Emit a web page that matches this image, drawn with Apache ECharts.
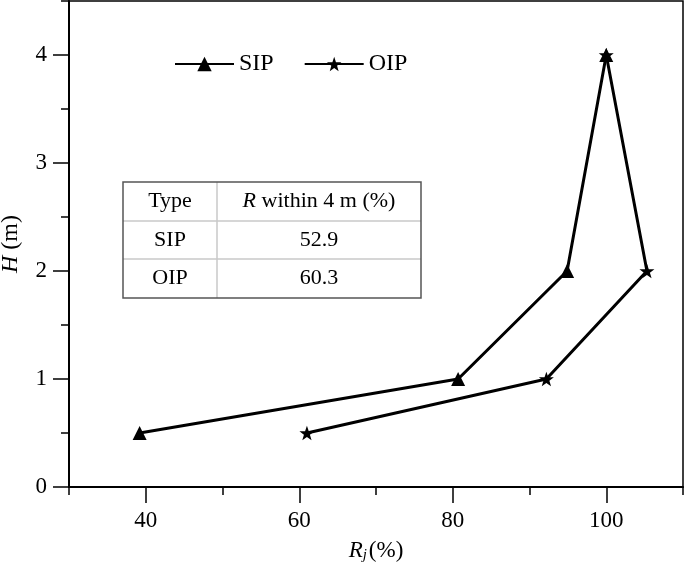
<!DOCTYPE html>
<html>
<head>
<meta charset="utf-8">
<script src="https://cdn.jsdelivr.net/npm/echarts@6/dist/echarts.min.js"></script>
<style>html,body{margin:0;padding:0;background:#fff;}#c{width:685px;height:570px;}</style>
</head>
<body>
<div id="c"></div>
<script>
// ---- data ----
const seriesNames = ['SIP', 'OIP'];
const sipX = [39.2, 80.7, 94.9, 100];
const sipY = [0.5, 1, 2, 4];
const oipX = [61.0, 92.2, 105.3, 100];
const oipY = [0.5, 1, 2, 4];
const xTickValues = [40, 60, 80, 100];
const yTickValues = [0, 1, 2, 3, 4];
const tableHeader = ['Type', 'R within 4 m (%)'];
const tableTypes = ['SIP', 'OIP'];
const tableValues = ['52.9', '60.3'];

const FONT = '"Liberation Serif", "Times New Roman", serif';
const STAR = 'path://M0,-10 L2.35,-3.24 L9.51,-3.09 L3.8,1.24 L5.88,8.09 L0,4 L-5.88,8.09 L-3.8,1.24 L-9.51,-3.09 L-2.35,-3.24 Z';

const chart = echarts.init(document.getElementById('c'), null, {renderer: 'canvas'});

function pairs(xs, ys) { return xs.map((x, i) => [x, ys[i]]); }

// table graphic
const T = {x0: 123, x1: 217, x2: 421, y0: 182, y1: 221, y2: 259, y3: 298};
const rowsY = [T.y0, T.y1, T.y2, T.y3];
const g = [];
const inner = '#c8c8c8', outer = '#555';
g.push({type: 'rect', shape: {x: T.x0, y: T.y0, width: T.x2 - T.x0, height: T.y3 - T.y0}, style: {fill: '#fff', stroke: 'none'}, z: 10});
g.push({type: 'line', shape: {x1: T.x1, y1: T.y0, x2: T.x1, y2: T.y3}, style: {stroke: inner, lineWidth: 1.5}, z: 11});
g.push({type: 'line', shape: {x1: T.x0, y1: T.y1, x2: T.x2, y2: T.y1}, style: {stroke: inner, lineWidth: 1.5}, z: 11});
g.push({type: 'line', shape: {x1: T.x0, y1: T.y2, x2: T.x2, y2: T.y2}, style: {stroke: inner, lineWidth: 1.5}, z: 11});
g.push({type: 'rect', shape: {x: T.x0, y: T.y0, width: T.x2 - T.x0, height: T.y3 - T.y0}, style: {fill: 'none', stroke: outer, lineWidth: 1.5}, z: 12});
const c1 = (T.x0 + T.x1) / 2, c2 = (T.x1 + T.x2) / 2;
function cellText(x, yTop, yBot, text, rich) {
  return {type: 'text', x: x, y: (yTop + yBot) / 2, z: 13,
    style: {text: text, font: '22px ' + FONT, fill: '#000', align: 'center', verticalAlign: 'middle', rich: rich}};
}
g.push(cellText(c1, rowsY[0], rowsY[1], tableHeader[0]));
const hdr = tableHeader[1];
g.push(cellText(c2, rowsY[0], rowsY[1], '{i|' + hdr.charAt(0) + '}{n|' + hdr.slice(1) + '}',
  {i: {fontStyle: 'italic', fontSize: 22, fontFamily: FONT, fill: '#000'}, n: {fontSize: 22, fontFamily: FONT, fill: '#000'}}));
for (let r = 0; r < tableTypes.length; r++) {
  g.push(cellText(c1, rowsY[r + 1], rowsY[r + 2], tableTypes[r]));
  g.push(cellText(c2, rowsY[r + 1], rowsY[r + 2], tableValues[r]));
}

const option = {
  animation: false,
  backgroundColor: '#fff',
  grid: {left: 69, right: 2, top: 1, bottom: 83, show: true, borderColor: '#000', borderWidth: 1.5,
    outerBoundsMode: 'none', containLabel: false},
  legend: {
    left: 174, top: 52, padding: 0, itemWidth: 59, itemHeight: 18, itemGap: 30,
    data: seriesNames,
    textStyle: {fontFamily: FONT, fontSize: 24, color: '#000'}
  },
  xAxis: [
    {type: 'value', min: 30, max: 110, interval: 10,
      axisLine: {show: true, onZero: false, lineStyle: {color: '#000', width: 2}},
      axisTick: {show: true, length: 8, lineStyle: {color: '#000', width: 1.5}},
      axisLabel: {show: false}, splitLine: {show: false},
      name: '{i|R}{s|j}{n|(%)}', nameLocation: 'middle', nameGap: 51,
      nameTextStyle: {rich: {
        i: {fontStyle: 'italic', fontSize: 23, fontFamily: FONT, color: '#000'},
        s: {fontStyle: 'italic', fontSize: 15, fontFamily: FONT, color: '#000', verticalAlign: 'bottom', padding: [10, 2, 0, 0]},
        n: {fontSize: 23, fontFamily: FONT, color: '#000'}
      }}
    },
    {type: 'value', min: 30, max: 110, interval: 10, position: 'bottom',
      axisLine: {show: false, onZero: false},
      axisTick: {show: true, length: 16, customValues: xTickValues, lineStyle: {color: '#000', width: 1.5}},
      axisLabel: {show: true, customValues: xTickValues, margin: 22, fontFamily: FONT, fontSize: 23, color: '#000'},
      splitLine: {show: false}
    }
  ],
  yAxis: [
    {type: 'value', min: 0, max: 4.5, interval: 0.5,
      axisLine: {show: true, onZero: false, lineStyle: {color: '#000', width: 2}},
      axisTick: {show: true, length: 8, lineStyle: {color: '#000', width: 1.5}},
      axisLabel: {show: false}, splitLine: {show: false},
      name: '{i|H}{n| (m)}', nameLocation: 'middle', nameGap: 46, nameRotate: 90,
      nameTextStyle: {rich: {
        i: {fontStyle: 'italic', fontSize: 24, fontFamily: FONT, color: '#000'},
        n: {fontSize: 24, fontFamily: FONT, color: '#000'}
      }}
    },
    {type: 'value', min: 0, max: 4.5, interval: 0.5, position: 'left',
      axisLine: {show: false, onZero: false},
      axisTick: {show: true, length: 16, customValues: yTickValues, lineStyle: {color: '#000', width: 1.5}},
      axisLabel: {show: true, customValues: yTickValues, margin: 22, fontFamily: FONT, fontSize: 23, color: '#000'},
      splitLine: {show: false}
    }
  ],
  series: [
    {name: seriesNames[0], type: 'line', xAxisIndex: 0, yAxisIndex: 0, data: pairs(sipX, sipY),
      symbol: 'triangle', symbolSize: 14, showAllSymbol: true,
      lineStyle: {color: '#000', width: 3}, itemStyle: {color: '#000'}, z: 5},
    {name: seriesNames[1], type: 'line', xAxisIndex: 0, yAxisIndex: 0, data: pairs(oipX, oipY),
      symbol: STAR, symbolSize: 15, symbolKeepAspect: true, showAllSymbol: true,
      lineStyle: {color: '#000', width: 3}, itemStyle: {color: '#000'}, z: 5}
  ],
  graphic: g
};
chart.setOption(option);
</script>
</body>
</html>
